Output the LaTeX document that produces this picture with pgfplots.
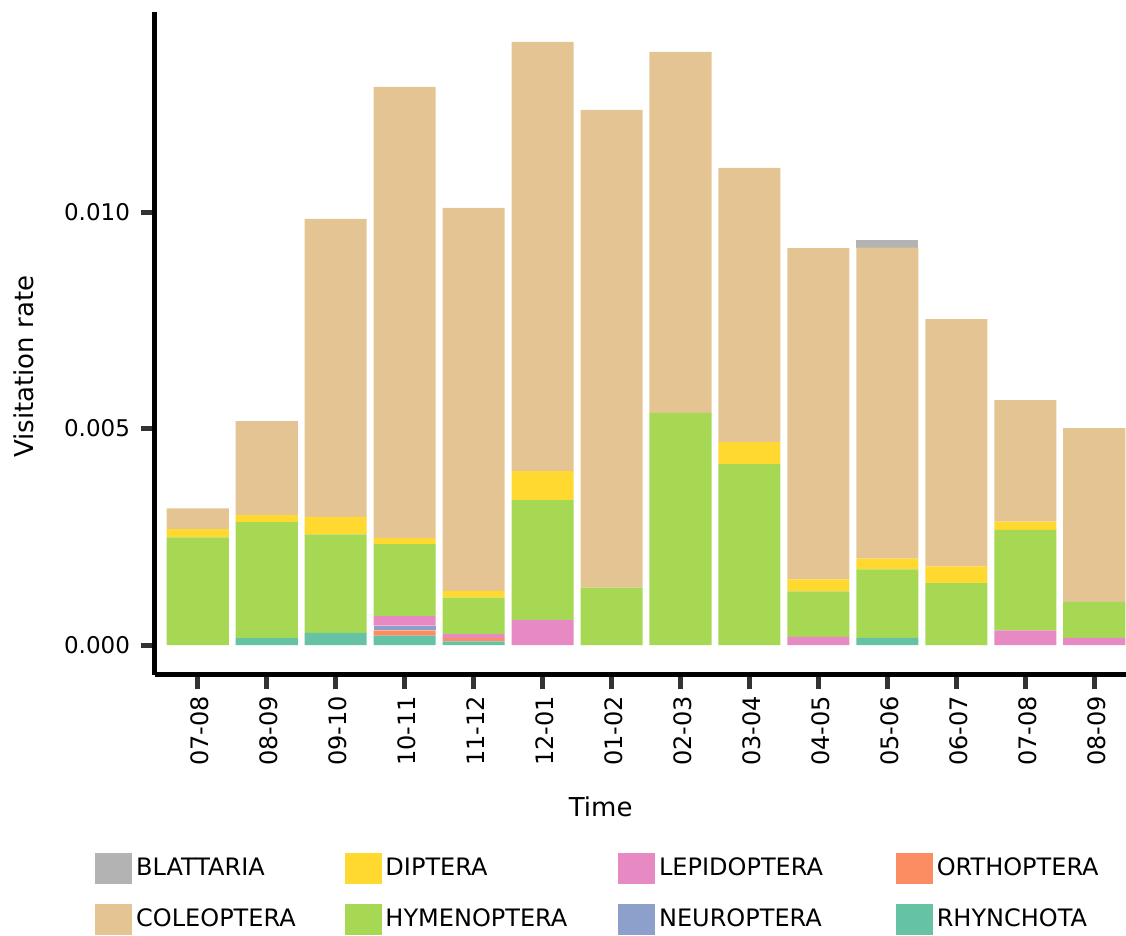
\documentclass[border=0pt]{standalone}
\usepackage{fontspec}
\setmainfont{DejaVu Sans}
\usepackage{pgfplots}
\usepackage{pgfplotstable}
\pgfplotsset{compat=1.18}
\definecolor{blatt}{HTML}{B3B3B3}
\definecolor{coleo}{HTML}{E5C494}
\definecolor{dipt}{HTML}{FFD92F}
\definecolor{hymen}{HTML}{A6D854}
\definecolor{lepi}{HTML}{E78AC3}
\definecolor{neuro}{HTML}{8DA0CB}
\definecolor{ortho}{HTML}{FC8D62}
\definecolor{rhyn}{HTML}{66C2A5}
\definecolor{tickc}{HTML}{333333}
\pgfplotstableread{
x rhyn ortho neuro lepi hymen dipt coleo blatt
1 0 0 0 0 0.00249 0.00019 0.00048 0
2 0.00016 0 0 0 0.00268 0.00016 0.00217 0
3 0.00028 0 0 0 0.00228 0.00040 0.00688 0
4 0.00022 0.00012 0.00011 0.00022 0.00166 0.00014 0.01042 0
5 0.000085 0.000085 0 0.000085 0.00084 0.00016 0.00884 0
6 0 0 0 0.00058 0.00277 0.00067 0.00991 0
7 0 0 0 0 0.00133 0 0.01103 0
8 0 0 0 0 0.00536 0 0.00834 0
9 0 0 0 0 0.00418 0.00051 0.00633 0
10 0 0 0 0.00019 0.00105 0.00028 0.00765 0
11 0.00017 0 0 0 0.00158 0.00025 0.00718 0.00017
12 0 0 0 0 0.00143 0.00039 0.00571 0
13 0 0 0 0.00034 0.00232 0.00019 0.00281 0
14 0 0 0 0.00017 0.00083 0 0.00401 0
}\datatable
\newcommand{\sqimg}[1]{\addlegendimage{legend image code/.code={\fill[#1] (0pt,-7.5pt) rectangle (18pt,7.5pt);}}}
\begin{document}
\begin{tikzpicture}
\useasboundingbox (-77.5pt,-130.5pt) rectangle (485.5pt,337.5pt);
\begin{axis}[
  scale only axis,
  width=485.5pt, height=331.5pt,
  ybar stacked,
  bar width=0.9,
  xmin=0.38, xmax=14.46,
  ymin=-0.00069, ymax=0.01462,
  axis x line*=bottom, axis y line*=left,
  axis line style={line width=2.5pt, -, black},
  tick align=outside,
  major tick length=7pt,
  every tick/.style={line width=2.5pt, tickc},
  xtick={1,...,14},
  xticklabels={07-08,08-09,09-10,10-11,11-12,12-01,01-02,02-03,03-04,04-05,05-06,06-07,07-08,08-09},
  xticklabel style={rotate=90, anchor=east, yshift=-1pt, font=\fontsize{12}{14}\selectfont},
  ytick={0,0.005,0.01},
  scaled y ticks=false,
  yticklabel style={font=\fontsize{11.5}{13}\selectfont, xshift=-2pt, /pgf/number format/fixed, /pgf/number format/fixed zerofill, /pgf/number format/precision=3},
  /pgf/number format/assume math mode=true,
  xlabel={Time},
  ylabel={Visitation rate},
  xlabel style={font=\fontsize{13}{15}\selectfont, at={(axis description cs:0.459,-0.199)}, anchor=center},
  ylabel style={font=\fontsize{13}{15}\selectfont, at={(axis description cs:-0.135,0.465)}, anchor=center},
  legend columns=4,
  legend cell align=left,
  legend style={at={(axis description cs:-0.0618,-0.2675)}, anchor=north west, draw=none, fill=none,
    font=\fontsize{12}{14}\selectfont, inner sep=0pt, row sep=10pt,
    /tikz/column 2/.style={column sep=22.5pt},
    /tikz/column 4/.style={column sep=23.5pt},
    /tikz/column 6/.style={column sep=34.5pt}},
]
\sqimg{blatt}\sqimg{dipt}\sqimg{lepi}\sqimg{ortho}
\sqimg{coleo}\sqimg{hymen}\sqimg{neuro}\sqimg{rhyn}
\legend{BLATTARIA,DIPTERA,LEPIDOPTERA,ORTHOPTERA,COLEOPTERA,HYMENOPTERA,NEUROPTERA,RHYNCHOTA}
\addplot[fill=rhyn, draw=none] table[x=x, y=rhyn] {\datatable};
\addplot[fill=ortho, draw=none] table[x=x, y=ortho] {\datatable};
\addplot[fill=neuro, draw=none] table[x=x, y=neuro] {\datatable};
\addplot[fill=lepi, draw=none] table[x=x, y=lepi] {\datatable};
\addplot[fill=hymen, draw=none] table[x=x, y=hymen] {\datatable};
\addplot[fill=dipt, draw=none] table[x=x, y=dipt] {\datatable};
\addplot[fill=coleo, draw=none] table[x=x, y=coleo] {\datatable};
\addplot[fill=blatt, draw=none] table[x=x, y=blatt] {\datatable};
\end{axis}
\end{tikzpicture}
\end{document}
